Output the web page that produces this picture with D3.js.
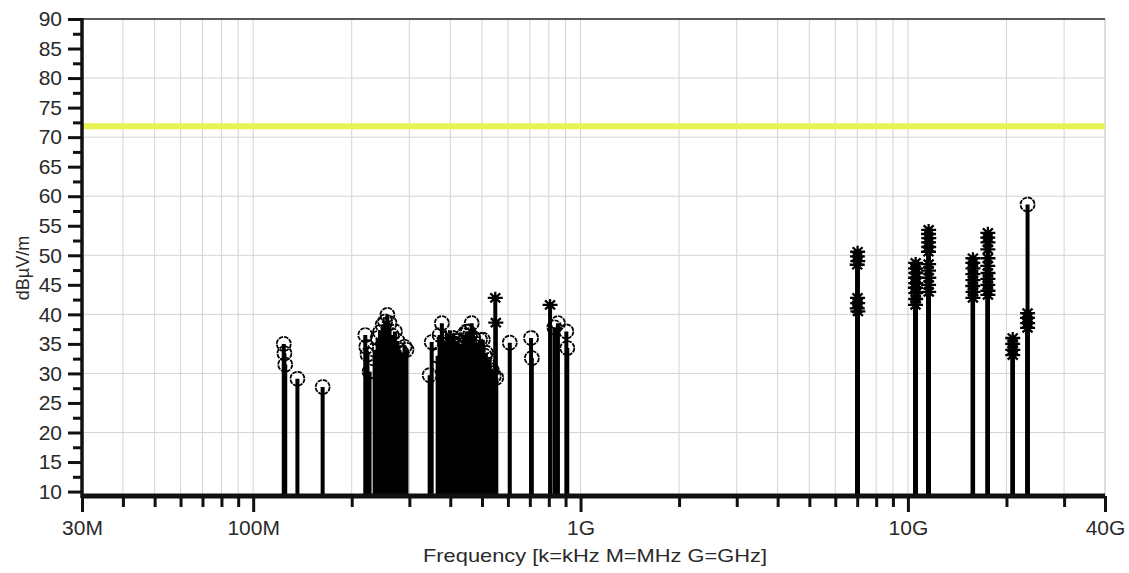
<!DOCTYPE html>
<html><head><meta charset="utf-8">
<script src="https://cdn.jsdelivr.net/npm/d3@7"></script>
<style>
html,body{margin:0;padding:0;background:#fff;}
svg{display:block;font-family:"Liberation Sans",Arial,sans-serif;}
</style></head><body>
<svg id="chart" width="1129" height="573"></svg>
<script>
// ---------- data ----------
const xTickValues = [30e6, 100e6, 1e9, 10e9, 40e9];
const xTickLabels = ["30M", "100M", "1G", "10G", "40G"];
const yMajorTicks = [10, 15, 20, 25, 30, 35, 40, 45, 50, 55, 60, 65, 70, 75, 80, 85, 90];
const yGridLines = [20, 30, 40, 50, 60, 70, 80];
const limitLevel = 71.85;

// circle markers (quasi-peak) : frequency in MHz, level in dBµV/m
const qpFreqMHz = [
  124.0, 124.6, 125.3, 136.5, 163.0,
  220, 221.5, 223.5, 226.8, 235, 240, 244, 248.5, 253, 257, 261, 265, 271, 276, 280, 284, 290, 294,
  346, 351, 366, 371, 377, 385, 393, 398, 403, 407, 412, 416, 421, 425, 430, 434, 439, 443, 448, 453,
  459, 465, 470, 475, 481, 486, 493, 503, 509, 514, 521, 528, 536, 543, 553,
  608, 706, 710, 832, 853, 905, 911,
  23200
];
const qpLevel = [
  35.0, 33.4, 31.5, 29.1, 27.7,
  36.5, 34.5, 33.2, 30.3, 34.0, 36.0, 37.0, 38.2, 38.8, 39.9, 38.5, 36.5, 37.1, 35.5, 34.0, 33.5, 34.5, 34.0,
  29.7, 35.3, 33.0, 36.5, 38.5, 35.5, 36.0, 35.5, 34.5, 36.0, 35.0, 34.0, 35.5, 33.5, 35.0, 34.5, 36.5, 35.0, 37.1, 37.1,
  36.5, 38.5, 36.0, 34.5, 35.0, 34.0, 35.7, 35.7, 33.0, 33.5, 31.5, 32.3, 30.5, 29.5, 29.3,
  35.2, 36.0, 32.6, 37.8, 38.5, 37.1, 34.3,
  58.6
];

// asterisk markers (peak) : frequency in MHz, level in dBµV/m
const pkFreqMHz = [
  400, 549, 551, 807,
  7020, 7010, 7030, 7000, 7015, 7025, 7005, 7035,
  10560, 10550, 10570, 10555, 10565, 10545, 10575, 10560, 10550,
  11570, 11560, 11580, 11565, 11575, 11555, 11570, 11560, 11580, 11565, 11575,
  15800, 15790, 15810, 15795, 15805, 15785, 15815, 15800,
  17550, 17540, 17560, 17545, 17555, 17535, 17565, 17550, 17540, 17560, 17550,
  20900, 20890, 20910, 20900,
  23200, 23190, 23210, 23200
];
const pkLevel = [
  36.0, 42.8, 38.6, 41.6,
  50.6, 49.8, 49.0, 48.4, 42.8, 41.9, 41.0, 40.5,
  48.7, 47.8, 47.0, 46.2, 45.3, 44.5, 43.6, 42.6, 41.6,
  54.3, 53.6, 52.9, 52.2, 51.4, 50.6, 48.5, 47.4, 46.2, 45.0, 43.8,
  49.5, 48.7, 47.8, 46.8, 45.8, 44.8, 43.8, 42.8,
  53.8, 53.0, 52.2, 51.0, 49.5, 48.2, 47.0, 46.0, 45.0, 44.0, 43.3,
  36.0, 35.0, 34.0, 33.1,
  40.2, 39.4, 38.5, 37.7
];

// ---------- layout ----------
const plot = {left: 82, right: 1105, top: 19, bottom: 496};
const svg = d3.select("#chart");

const x = d3.scaleLog().domain([30e6, 40e9]).range([plot.left, plot.right]);
const y = d3.scaleLinear().domain([9.25, 90]).range([plot.bottom, plot.top]);

// grid x values: every 1..9 x decade inside domain
const xGridValues = [];
[1e7, 1e8, 1e9, 1e10].forEach(dec => {
  for (let m = 1; m <= 9; m++) {
    const v = dec * m;
    if (v >= 30e6 && v <= 40e9) xGridValues.push(v);
  }
});
xGridValues.push(40e9);

const grid = svg.append("g");
grid.selectAll("line.vx").data(xGridValues).join("line")
  .attr("x1", d => x(d)).attr("x2", d => x(d))
  .attr("y1", plot.top).attr("y2", plot.bottom)
  .attr("stroke", "#d4d4d4").attr("stroke-width", 1);
grid.selectAll("line.hy").data(yGridLines).join("line")
  .attr("x1", plot.left).attr("x2", plot.right)
  .attr("y1", d => y(d)).attr("y2", d => y(d))
  .attr("stroke", "#d4d4d4").attr("stroke-width", 1);

// top border
svg.append("line").attr("x1", plot.left).attr("x2", plot.right)
  .attr("y1", plot.top).attr("y2", plot.top)
  .attr("stroke", "#222").attr("stroke-width", 1.5);

// limit line
svg.append("line").attr("x1", plot.left).attr("x2", plot.right)
  .attr("y1", y(limitLevel)).attr("y2", y(limitLevel))
  .attr("stroke", "#e6f350").attr("stroke-width", 6);

// data
const qp = qpFreqMHz.map((f, i) => ({f: f * 1e6, v: qpLevel[i]}));
const pk = pkFreqMHz.map((f, i) => ({f: f * 1e6, v: pkLevel[i]}));

const stems = svg.append("g").attr("stroke", "#000").attr("stroke-width", 4);
stems.selectAll("line.q").data(qp.concat(pk)).join("line")
  .attr("x1", d => x(d.f)).attr("x2", d => x(d.f))
  .attr("y1", y(9.25)).attr("y2", d => y(d.v));

svg.append("g").selectAll("circle").data(qp).join("circle")
  .attr("cx", d => x(d.f)).attr("cy", d => y(d.v)).attr("r", 7)
  .attr("fill", "none").attr("stroke", "#000").attr("stroke-width", 1.8)
  .attr("stroke-dasharray", "4.5,1");

const starPath = "M-7.5,0H7.5M0,-6V6M-5,-4.5L5,4.5M-5,4.5L5,-4.5";
svg.append("g").selectAll("path").data(pk).join("path")
  .attr("d", starPath)
  .attr("transform", d => `translate(${x(d.f)},${y(d.v)})`)
  .attr("fill", "none").attr("stroke", "#000").attr("stroke-width", 2.3);

// ---------- axes ----------
const yAxisG = svg.append("g").attr("transform", `translate(${plot.left},0)`);
const yMinor = d3.range(10, 90.01, 2.5).filter(v => v % 5 !== 0);
yAxisG.call(d3.axisLeft(y).tickValues(yMinor).tickSize(9).tickFormat(""))
  .call(g => g.select(".domain").remove())
  .call(g => g.selectAll(".tick line").attr("stroke", "#111").attr("stroke-width", 3));
const yMajG = svg.append("g").attr("transform", `translate(${plot.left},0)`);
yMajG.call(d3.axisLeft(y).tickValues(yMajorTicks).tickSize(14).tickPadding(6).tickFormat(d3.format("d")))
  .call(g => g.select(".domain").remove())
  .call(g => g.selectAll(".tick line").attr("stroke", "#111").attr("stroke-width", 3))
  .call(g => g.selectAll(".tick text").attr("fill", "#2a2a2a").attr("font-size", 21)
     .attr("font-family", "Liberation Sans, Arial, sans-serif"));
svg.append("line").attr("x1", plot.left).attr("x2", plot.left)
  .attr("y1", plot.top - 1).attr("y2", plot.bottom + 2)
  .attr("stroke", "#111").attr("stroke-width", 3.5);

const xMinG = svg.append("g").attr("transform", `translate(0,${plot.bottom})`);
xMinG.call(d3.axisBottom(x).tickValues(xGridValues.filter(v => !xTickValues.includes(v))).tickSize(11).tickFormat(""))
  .call(g => g.select(".domain").remove())
  .call(g => g.selectAll(".tick line").attr("stroke", "#111").attr("stroke-width", 3));
const xMajG = svg.append("g").attr("transform", `translate(0,${plot.bottom})`);
xMajG.call(d3.axisBottom(x).tickValues(xTickValues).tickSize(16).tickPadding(8)
    .tickFormat((d, i) => xTickLabels[i]))
  .call(g => g.select(".domain").remove())
  .call(g => g.selectAll(".tick line").attr("stroke", "#111").attr("stroke-width", 3))
  .call(g => g.selectAll(".tick text").attr("fill", "#2a2a2a").attr("font-size", 21)
     .attr("font-family", "Liberation Sans, Arial, sans-serif"));
svg.append("line").attr("x1", plot.left - 1).attr("x2", plot.right)
  .attr("y1", plot.bottom).attr("y2", plot.bottom)
  .attr("stroke", "#111").attr("stroke-width", 5);

// titles
svg.append("text").attr("x", 595).attr("y", 562).attr("text-anchor", "middle")
  .attr("font-size", 19).attr("fill", "#2a2a2a")
  .attr("textLength", 344).attr("lengthAdjust", "spacingAndGlyphs")
  .text("Frequency [k=kHz M=MHz G=GHz]");
svg.append("text").attr("transform", "translate(29,268) rotate(-90)")
  .attr("text-anchor", "middle").attr("font-size", 18).attr("fill", "#2a2a2a")
  .text("dBµV/m");
</script>
</body></html>
